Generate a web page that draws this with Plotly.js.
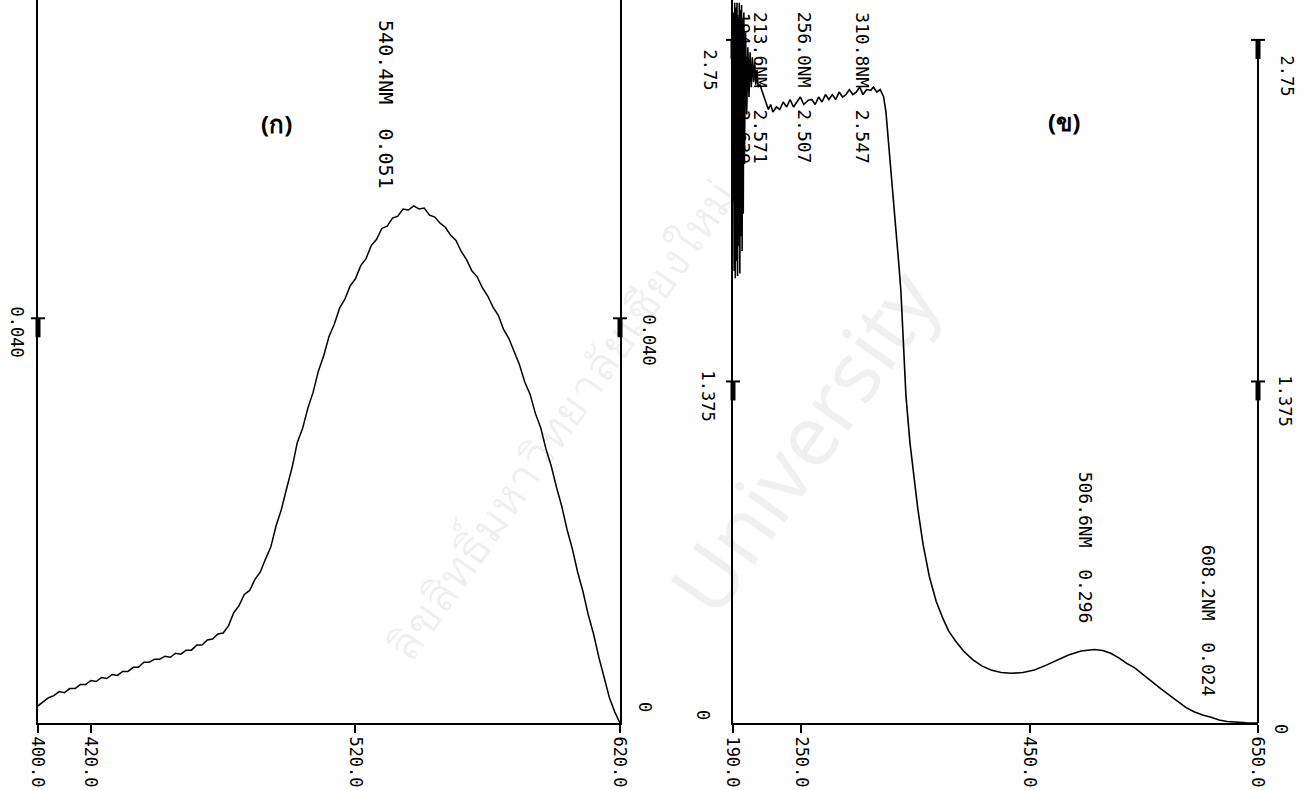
<!DOCTYPE html>
<html>
<head>
<meta charset="utf-8">
<script src="https://cdn.plot.ly/plotly-3.0.1.min.js"></script>
<style>html,body{margin:0;padding:0;background:#fff;}#chart{width:1306px;height:790px;}</style>
</head>
<body>
<div id="chart"></div>
<script>
// ---------- Panel (ก) data ----------
const wlA = [400,402,404,406,408,410,412,414,416,418,420,422,424,426,428,430,432,434,436,438,440,442,444,446,448,450,452,454,456,458,460,462,464,466,468,470,472,474,476,478,480,482,484,486,488,490,492,494,496,498,500,502,504,506,508,510,512,514,516,518,520,522,524,526,528,530,532,534,536,538,540,542,544,546,548,550,552,554,556,558,560,562,564,566,568,570,572,574,576,578,580,582,584,586,588,590,592,594,596,598,600,602,604,606,608,610,612,614,616,618,620];
const absA = [0.0017,0.0021,0.0025,0.0027,0.0031,0.0030,0.0034,0.0034,0.0038,0.0038,0.0042,0.0041,0.0045,0.0044,0.0048,0.0047,0.0051,0.0051,0.0055,0.0055,0.0060,0.0060,0.0063,0.0063,0.0066,0.0065,0.0069,0.0068,0.0072,0.0072,0.0077,0.0077,0.0082,0.0083,0.0088,0.0089,0.0096,0.0109,0.0116,0.0127,0.0131,0.0142,0.0149,0.0162,0.0174,0.0195,0.0211,0.0232,0.0252,0.0277,0.0291,0.0311,0.0327,0.0348,0.0363,0.0382,0.0394,0.0410,0.0419,0.0432,0.0439,0.0452,0.0459,0.0472,0.0478,0.0489,0.0491,0.0499,0.0501,0.0508,0.0507,0.0511,0.0508,0.0509,0.0502,0.0500,0.0494,0.0490,0.0482,0.0477,0.0466,0.0458,0.0447,0.0441,0.0430,0.0422,0.0411,0.0403,0.0389,0.0380,0.0366,0.0354,0.0337,0.0325,0.0306,0.0292,0.0271,0.0254,0.0233,0.0214,0.0191,0.0172,0.0149,0.0130,0.0107,0.0088,0.0065,0.0046,0.0025,0.0011,0.0000];
const tickValsA = [400,420,520,620];
const tickTextA = ["400.0","420.0","520.0","620.0"];
const yTickA = 0.040, yTickTextA = "0.040";
const peakA = {wl:540.4, a:0.051, text:"540.4NM  0.051"};

// ---------- Panel (ข) data ----------
const wlB = [190.0,190.5,191.0,191.5,192.0,192.5,193.0,193.5,194.0,194.5,195.0,195.5,196.0,196.5,197.0,197.5,198.0,198.5,199.0,199.5,200.0,201,202,203,204,205,206,207,208,209,210,211,212,213.6,215,217,219,221,223,225,228,231,234,237,240,243,246,249,252,256,259,262,265,268,271,274,277,280,283,286,289,292,295,298,301,304,307,310.8,313,316,319,322,324,325.7,328,331,333,335.4,337.1,339,341.5,345,348.6,352,356.5,362,368,374,379,385,392,400,408,416,425,434,444,454,464,474,484,495,506.6,514,521,528,535,542,550,557,565,572,580,587,594,601.5,608.2,616,623,630,640,650];
const absB = [2.10,2.86,1.82,2.90,1.79,2.88,1.86,2.90,1.80,2.84,1.92,2.90,1.81,2.87,1.96,2.89,1.90,2.83,2.05,2.86,2.25,2.78,2.45,2.72,2.52,2.70,2.56,2.68,2.58,2.66,2.57,2.63,2.56,2.571,2.55,2.52,2.50,2.47,2.49,2.46,2.48,2.47,2.50,2.48,2.51,2.48,2.50,2.52,2.49,2.507,2.51,2.49,2.52,2.50,2.53,2.51,2.53,2.51,2.54,2.52,2.53,2.55,2.53,2.54,2.56,2.53,2.55,2.547,2.56,2.54,2.55,2.52,2.46,2.37,2.25,2.10,2.00,1.84,1.74,1.55,1.32,1.13,0.98,0.86,0.72,0.59,0.49,0.42,0.37,0.33,0.29,0.255,0.23,0.213,0.203,0.200,0.203,0.213,0.232,0.252,0.274,0.290,0.296,0.292,0.281,0.262,0.240,0.222,0.192,0.165,0.137,0.113,0.085,0.062,0.045,0.032,0.024,0.012,0.006,0.003,0.001,0.000];
const tickValsB = [190,250,450,650];
const tickTextB = ["190.0","250.0","450.0","650.0"];
const yTicksB = [1.375, 2.75];
const yTickTextB = ["1.375","2.75"];
const peaksB = [
  {wl:194.0, text:"194.0NM  2.639", shift:5, top:10},
  {wl:213.6, text:"213.6NM  2.571", shift:0, top:10},
  {wl:256.0, text:"256.0NM  2.507", shift:-4, top:10},
  {wl:310.8, text:"310.8NM  2.547", shift:-9, top:10},
  {wl:506.6, text:"506.6NM  0.296", shift:-8, top:470},
  {wl:608.2, text:"608.2NM  0.024", shift:-1, top:543}
];

// ---------- geometry helpers (pixel -> paper) ----------
const W = 1306, H = 790, PB = 723;
const px = v => v / W;
const py = v => (PB - v) / PB;
const mono = "DejaVu Sans Mono, Liberation Mono, monospace";

const traces = [
  {x: wlA, y: absA, xaxis:'x', yaxis:'y', mode:'lines', line:{color:'#000', width:1.5}, hoverinfo:'skip'},
  {x: wlB, y: absB, xaxis:'x2', yaxis:'y2', mode:'lines', line:{color:'#000', width:1.6}, hoverinfo:'skip'}
];

const axBase = {showgrid:false, zeroline:false, showline:true, linecolor:'#000', linewidth:2, color:'#000'};

const shapes = [];
function tee(xp, yref, yval){
  shapes.push({type:'line', xref:'paper', yref:yref, xsizemode:'pixel', xanchor:xp, x0:-7, x1:7, y0:yval, y1:yval, line:{color:'#000', width:2}});
  shapes.push({type:'rect', xref:'paper', yref:yref, xsizemode:'pixel', xanchor:xp, x0:-2.5, x1:2.5, ysizemode:'pixel', yanchor:yval, y0:-19, y1:0, fillcolor:'#000', line:{width:0}});
}
const xA0 = px(38), xA1 = px(620), xB0 = px(733), xB1 = px(1258);
tee(xA0, 'y', yTickA); tee(xA1, 'y', yTickA);
yTicksB.forEach(v => { tee(xB0, 'y2', v); tee(xB1, 'y2', v); });
shapes.push({type:'line', xref:'paper', yref:'y2', x0:xB1, x1:xB1, y0:0, y1:yTicksB[1], line:{color:'#000', width:2}});

const ann = [];
function rot(xp, ypix, text, size, xshiftPx){
  ann.push({xref:'paper', yref:'paper', x:xp, y:py(ypix), text:text, textangle:90, showarrow:false,
    xanchor:'center', yanchor:'top', xshift:xshiftPx||0, font:{family:mono, size:size, color:'#000'}});
}
// y-axis labels (rotated)
rot(px(16), 304, yTickTextA, 17);
rot(px(649), 312, yTickTextA, 17);
rot(px(645), 700, "0", 17);
rot(px(708), 368, yTickTextB[0], 17);
rot(px(1284), 373, yTickTextB[0], 17);
rot(px(710), 47, yTickTextB[1], 17);
rot(px(1286), 53, yTickTextB[1], 17);
rot(px(703), 708, "0", 17);
rot(px(1281), 722, "0", 17);
// peak labels
ann.push({xref:'x', yref:'paper', x:peakA.wl, y:py(18), text:peakA.text, textangle:90, showarrow:false,
  xanchor:'center', yanchor:'top', xshift:-23, font:{family:mono, size:20, color:'#000'}});
peaksB.forEach(p => ann.push({xref:'x2', yref:'paper', x:p.wl, y:py(p.top), text:p.text, textangle:90, showarrow:false,
  xanchor:'center', yanchor:'top', xshift:p.shift, font:{family:mono, size:18, color:'#000'}}));
// panel titles
ann.push({xref:'paper', yref:'paper', x:px(259), y:py(105), text:"<b>(ก)</b>", showarrow:false, font:{family:"Noto Sans, DejaVu Sans", size:24, color:'#000'}});
ann.push({xref:'paper', yref:'paper', x:px(1082), y:py(103), text:"<b>(ข)</b>", showarrow:false, font:{family:"Noto Sans, DejaVu Sans", size:24, color:'#000'}});
// faint watermark
ann.push({xref:'paper', yref:'paper', x:px(560), y:py(420), text:"ลิขสิทธิ์มหาวิทยาลัยเชียงใหม่", textangle:-55, showarrow:false, font:{family:"Noto Sans", size:46, color:'rgba(0,0,0,0.06)'}});
ann.push({xref:'paper', yref:'paper', x:px(965), y:py(440), text:"University", textangle:-55, showarrow:false, font:{family:"Noto Sans", size:84, color:'rgba(0,0,0,0.06)'}});

const layout = {
  width:W, height:H, paper_bgcolor:'#fff', plot_bgcolor:'#fff', showlegend:false,
  margin:{l:0, r:0, t:0, b:H-PB, pad:0},
  xaxis: Object.assign({}, axBase, {domain:[xA0, xA1], range:[400,620], anchor:'y', tickvals:tickValsA, ticktext:tickTextA,
    tickangle:90, ticks:'outside', ticklen:8, tickwidth:2, tickcolor:'#000', tickfont:{family:mono, size:17, color:'#000'}}),
  yaxis: Object.assign({}, axBase, {domain:[0,1], range:[0, PB/10118], anchor:'x', mirror:true, showticklabels:false, ticks:''}),
  xaxis2: Object.assign({}, axBase, {domain:[xB0, xB1], range:[190,650], anchor:'y2', tickvals:tickValsB, ticktext:tickTextB,
    tickangle:90, ticks:'outside', ticklen:8, tickwidth:2, tickcolor:'#000', tickfont:{family:mono, size:17, color:'#000'}}),
  yaxis2: Object.assign({}, axBase, {domain:[0,1], range:[0, PB/248.4], anchor:'x2', showticklabels:false, ticks:''}),
  shapes: shapes,
  annotations: ann
};
Plotly.newPlot('chart', traces, layout, {staticPlot:true, displayModeBar:false});
</script>
</body>
</html>
